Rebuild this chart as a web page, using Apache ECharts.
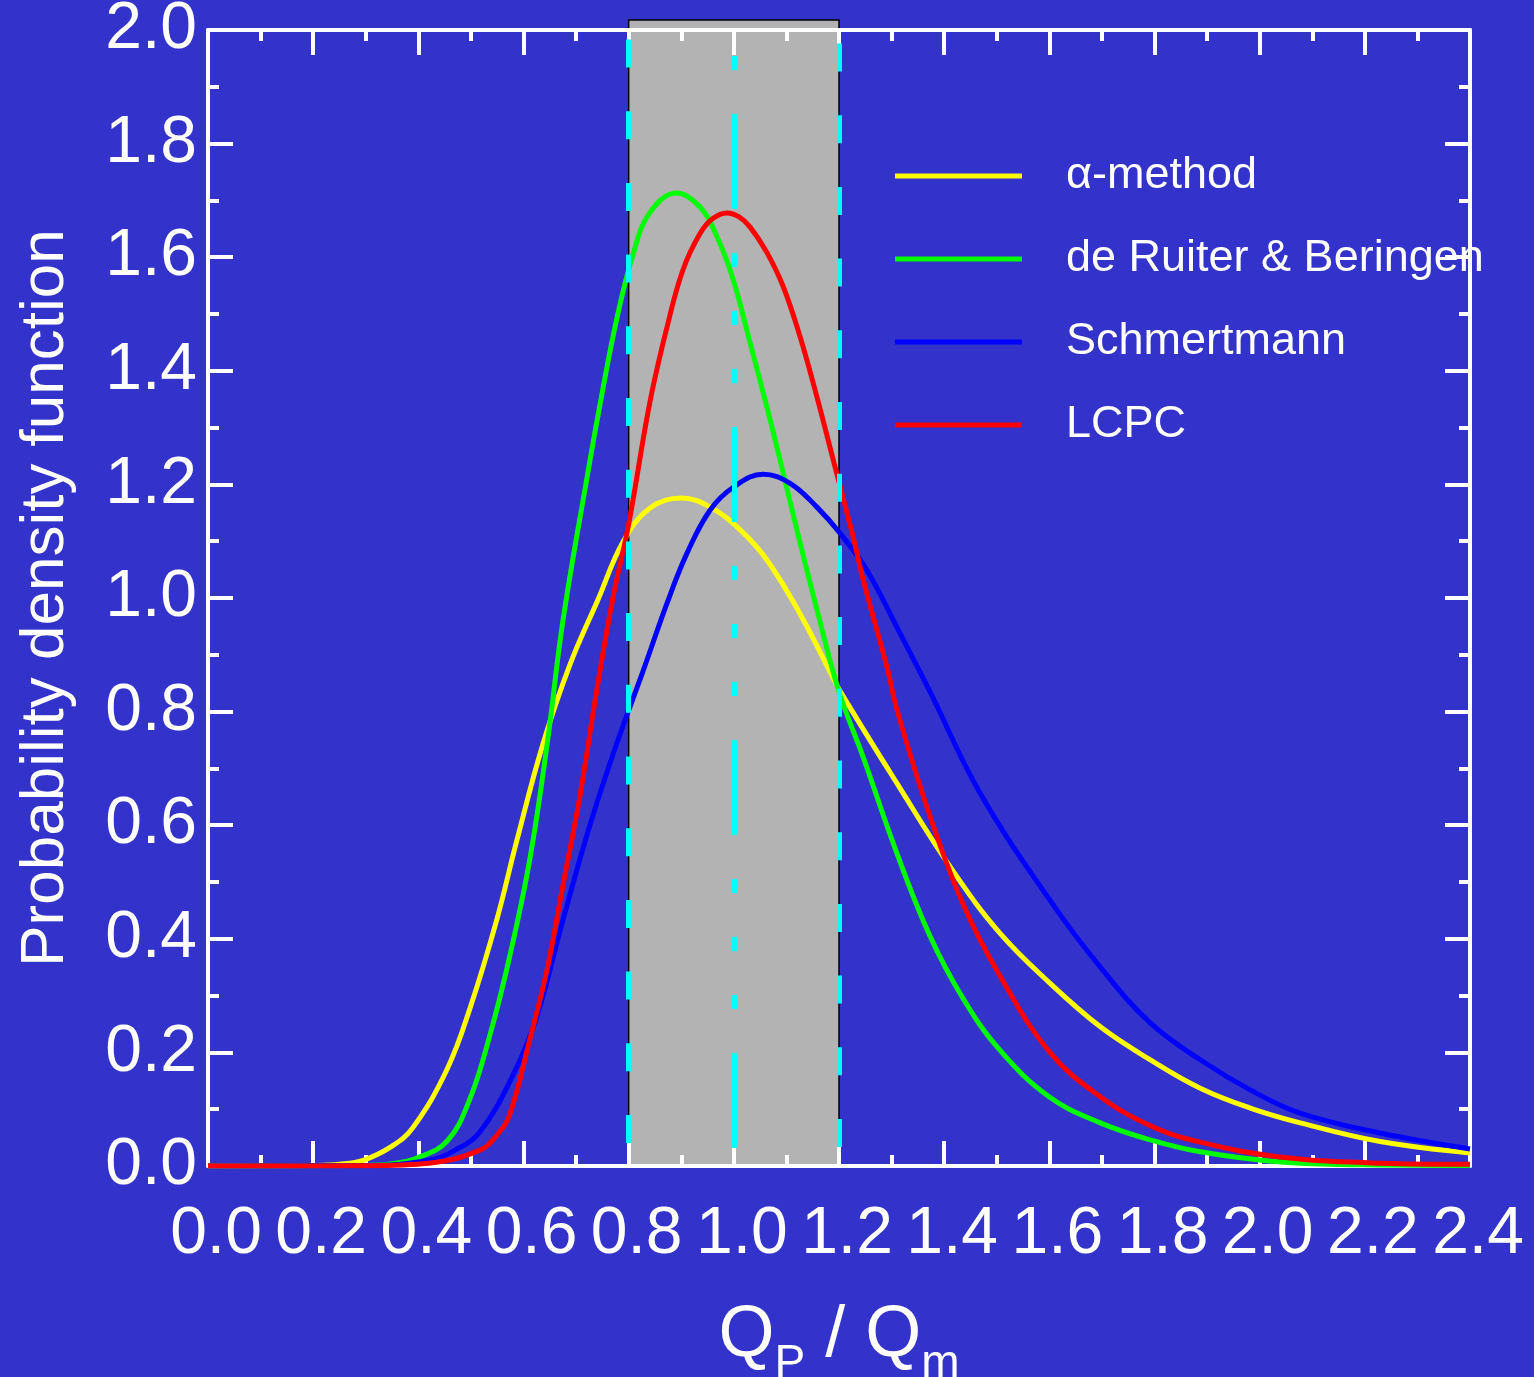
<!DOCTYPE html>
<html><head><meta charset="utf-8">
<script src="https://cdn.jsdelivr.net/npm/echarts@6/dist/echarts.min.js"></script>
<style>html,body{margin:0;padding:0;background:#3333cc;} #c{width:1534px;height:1377px;}</style>
</head><body><div id="c"></div>
<script>
const seriesNames = ['α-method', 'de Ruiter & Beringen', 'Schmertmann', 'LCPC'];
const seriesColors = ['#ffff00', '#00ff00', '#0000ff', '#ff0000'];

const alphaMethod = [[0,0],[0.2,0.001],[0.25,0.003],[0.295,0.01],[0.35,0.035],[0.39,0.068],[0.454,0.169],[0.498,0.277],[0.549,0.433],[0.587,0.572],[0.637,0.743],[0.688,0.882],[0.742,0.998],[0.79,1.100],[0.84,1.158],[0.90,1.176],[0.955,1.16],[1.012,1.12],[1.063,1.067],[1.126,0.972],[1.183,0.87],[1.202,0.836],[1.31,0.674],[1.417,0.519],[1.506,0.41],[1.601,0.322],[1.697,0.245],[1.792,0.187],[1.887,0.137],[1.982,0.102],[2.077,0.076],[2.229,0.043],[2.40,0.023]];
const deRuiter = [[0,0],[0.3,0.001],[0.35,0.004],[0.397,0.014],[0.455,0.044],[0.498,0.118],[0.536,0.23],[0.574,0.37],[0.612,0.54],[0.645,0.743],[0.675,0.96],[0.72,1.208],[0.746,1.343],[0.777,1.49],[0.809,1.607],[0.84,1.678],[0.891,1.713],[0.936,1.688],[0.968,1.636],[0.999,1.56],[1.031,1.449],[1.063,1.336],[1.094,1.22],[1.126,1.097],[1.158,0.98],[1.2,0.835],[1.246,0.72],[1.31,0.551],[1.373,0.405],[1.436,0.295],[1.506,0.204],[1.601,0.121],[1.697,0.076],[1.792,0.046],[1.887,0.025],[2.04,0.007],[2.2,0.002],[2.4,0.001]];
const schmertmann = [[0,0],[0.3,0.001],[0.42,0.01],[0.47,0.028],[0.517,0.06],[0.58,0.16],[0.625,0.262],[0.675,0.433],[0.727,0.602],[0.777,0.743],[0.828,0.873],[0.873,0.991],[0.911,1.079],[0.955,1.155],[0.999,1.195],[1.056,1.218],[1.107,1.202],[1.158,1.16],[1.202,1.114],[1.253,1.049],[1.316,0.938],[1.373,0.835],[1.468,0.657],[1.601,0.468],[1.697,0.35],[1.792,0.252],[1.887,0.187],[1.982,0.134],[2.077,0.093],[2.229,0.058],[2.40,0.030]];
const lcpc = [[0,0],[0.3,0.0005],[0.42,0.005],[0.517,0.028],[0.55,0.055],[0.574,0.091],[0.612,0.223],[0.645,0.347],[0.675,0.494],[0.707,0.65],[0.739,0.836],[0.77,1.0],[0.8,1.13],[0.84,1.343],[0.873,1.477],[0.903,1.577],[0.936,1.642],[0.96,1.668],[0.987,1.678],[1.01,1.671],[1.031,1.653],[1.063,1.608],[1.094,1.548],[1.126,1.46],[1.158,1.354],[1.189,1.243],[1.227,1.107],[1.246,1.032],[1.291,0.879],[1.31,0.804],[1.373,0.616],[1.436,0.461],[1.506,0.335],[1.601,0.20],[1.697,0.122],[1.792,0.071],[1.887,0.042],[2.039,0.016],[2.229,0.005],[2.4,0.003]];

const bandRange = [0.8, 1.2];
const bandTop = 2.0176;
const meanValue = 1.0;
const xRange = [0, 2.4];
const yRange = [0, 2.0];
const tickStep = 0.2;

const FONT = "'Liberation Sans', Arial, sans-serif";
const white = '#ffffff';

function frameAxis(extra) {
  return Object.assign({
    type: 'value',
    interval: tickStep,
    axisLine: { show: true, onZero: false, lineStyle: { color: white, width: 4 } },
    axisTick: { show: true, inside: true, length: 25, lineStyle: { color: white, width: 4 } },
    minorTick: { show: true, splitNumber: 2, length: 11, lineStyle: { color: white, width: 4 } },
    splitLine: { show: false },
    axisLabel: { show: false }
  }, extra);
}

const chart = echarts.init(document.getElementById('c'));
const curves = [alphaMethod, deRuiter, schmertmann, lcpc];

const option = {
  backgroundColor: '#3333cc',
  animation: false,
  grid: { left: 208, right: 64, top: 30, bottom: 211, containLabel: false, outerBoundsMode: 'none' },
  xAxis: [
    frameAxis({
      min: xRange[0], max: xRange[1], position: 'bottom',
      axisLabel: { show: true, color: white, fontSize: 66, fontFamily: FONT, margin: 36,
        padding: [0, 0, 0, 16], formatter: v => v.toFixed(1) },
      name: '{q|Q}{s|P}{q| / Q}{s|m}',
      nameLocation: 'middle', nameGap: 95,
      nameTextStyle: {
        color: white, fontFamily: FONT,
        rich: {
          q: { fontSize: 72, color: white, fontFamily: FONT, lineHeight: 150 },
          s: { fontSize: 46, color: white, fontFamily: FONT, padding: [56, 0, 0, 0] }
        }
      }
    }),
    frameAxis({ min: xRange[0], max: xRange[1], position: 'top' })
  ],
  yAxis: [
    frameAxis({
      min: yRange[0], max: yRange[1], position: 'left',
      axisLabel: { show: true, color: white, fontSize: 66, fontFamily: FONT, margin: 11,
        padding: [13, 0, 0, 0], formatter: v => v.toFixed(1) },
      name: 'Probability density function',
      nameLocation: 'middle', nameGap: 131,
      nameTextStyle: { color: white, fontSize: 62, fontFamily: FONT }
    }),
    frameAxis({ min: yRange[0], max: yRange[1], position: 'right' })
  ],
  legend: {
    orient: 'vertical', left: 890, top: 140,
    itemWidth: 127, itemHeight: 5, itemGap: 21, icon: 'rect',
    textStyle: { color: white, fontSize: 45, fontFamily: FONT, lineHeight: 44, padding: [18, 0, 0, 39] },
    data: seriesNames
  },
  series: [
    {
      name: 'bandArea', type: 'custom', z: -2, silent: true, clip: false,
      data: [[bandRange[0], bandRange[1], yRange[0], bandTop]],
      renderItem: function (params, api) {
        const p0 = api.coord([api.value(0), api.value(3)]);
        const p1 = api.coord([api.value(1), api.value(2)]);
        return {
          type: 'rect',
          shape: { x: p0[0], y: p0[1], width: p1[0] - p0[0], height: p1[1] - p0[1] },
          style: { fill: '#b3b3b3', stroke: '#000000', lineWidth: 1.5 }
        };
      }
    },
    {
      name: 'bandLines', type: 'line', data: [], z: -1, clip: false, silent: true,
      markLine: {
        silent: true, symbol: ['none', 'none'], label: { show: false },
        data: [
          [{ coord: [bandRange[0], yRange[0]], lineStyle: { color: '#00ffff', width: 5, type: [28, 43.7], dashOffset: 48.7 } },
           { coord: [bandRange[0], yRange[1]] }],
          [{ coord: [bandRange[1], yRange[0]], lineStyle: { color: '#00ffff', width: 5, type: [28, 43.7], dashOffset: 52.7 } },
           { coord: [bandRange[1], yRange[1]] }],
          [{ coord: [meanValue, yRange[0]], lineStyle: { color: '#00ffff', width: 5, type: [95, 44, 14, 44, 14, 44, 14, 44], dashOffset: 295 } },
           { coord: [meanValue, yRange[1]] }]
        ]
      }
    }
  ].concat(curves.map((d, i) => ({
    name: seriesNames[i], type: 'line', data: d, z: 2,
    showSymbol: false, symbol: 'none', smooth: 0.4,
    color: seriesColors[i],
    itemStyle: { color: seriesColors[i] },
    lineStyle: { color: seriesColors[i], width: 5 }
  })))
};
chart.setOption(option);
</script></body></html>
